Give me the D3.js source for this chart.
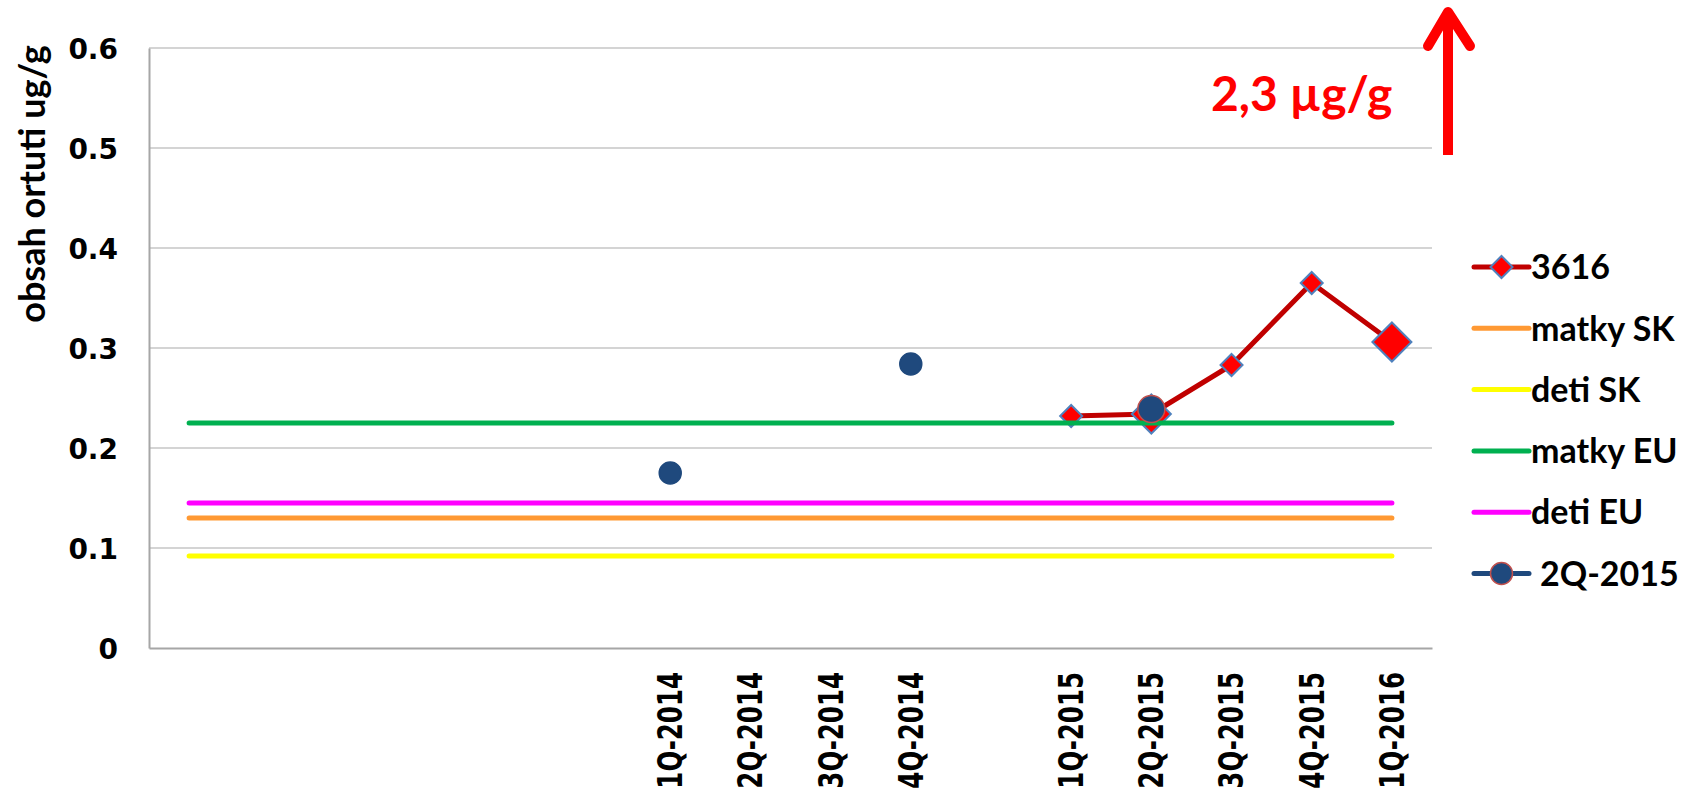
<!DOCTYPE html>
<html>
<head>
<meta charset="utf-8">
<script src="https://cdn.jsdelivr.net/npm/d3@7"></script>
<style>
  body { margin: 0; background: #fff; }
  svg { display: block; }
  .ytick { font-family: "DejaVu Sans", sans-serif; font-weight: bold; font-size: 28px; }
  .xtick { font-family: "DejaVu Sans", sans-serif; font-weight: bold; font-size: 24.5px; }
  .ytitle, .legend text { font-family: Lato, sans-serif; font-weight: bold; }
</style>
</head>
<body>
<div id="chart"></div>
<script>
// categories on the x axis (empty ones are blank slots in the original)
const categories = ["", "", "", "", "", "", "1Q-2014", "2Q-2014", "3Q-2014", "4Q-2014", "",
                    "1Q-2015", "2Q-2015", "3Q-2015", "4Q-2015", "1Q-2016"];
const yTicks = [0, 0.1, 0.2, 0.3, 0.4, 0.5, 0.6];

const s3616   = [null, null, null, null, null, null, null, null, null, null, null,
                 0.232, 0.234, 0.283, 0.365, 0.306];
const s2Q2015 = [null, null, null, null, null, null, 0.175, null, null, 0.284, null,
                 null, 0.239, null, null, null];
const matkySK = 0.130;
const detiSK  = 0.092;
const matkyEU = 0.225;
const detiEU  = 0.145;

const seriesNames = ["3616", "matky SK", "deti SK", "matky EU", "deti EU", "2Q-2015"];
const bigMarkers = ["2Q-2015", "1Q-2016"];   // drawn with enlarged markers

const W = 1696, H = 806;
const margin = {top: 48, right: 264, bottom: 158, left: 149};

const svg = d3.select("#chart").append("svg")
    .attr("width", W).attr("height", H);

const x = d3.scaleBand()
    .domain(d3.range(categories.length))
    .range([margin.left, W - margin.right]);
const y = d3.scaleLinear()
    .domain([0, 0.6])
    .range([H - margin.bottom, margin.top]);
const cx = i => x(i) + x.bandwidth() / 2;

// grid
svg.append("g")
  .selectAll("line")
  .data(yTicks.slice(1))
  .join("line")
    .attr("x1", margin.left).attr("x2", W - margin.right)
    .attr("y1", d => y(d)).attr("y2", d => y(d))
    .attr("stroke", "#c6c6c6").attr("stroke-width", 1.5);

// axes
const yAxis = svg.append("g")
    .attr("transform", "translate(" + margin.left + ",0)")
    .call(d3.axisLeft(y).tickValues(yTicks).tickSize(0).tickPadding(31)
      .tickFormat(d => d === 0 ? "0" : d3.format(".1f")(d)));
yAxis.select(".domain").attr("stroke", "#a6a6a6").attr("stroke-width", 2);
yAxis.selectAll("text").attr("class", "ytick").attr("fill", "#000").attr("dy", "0.36em");

const xAxis = svg.append("g")
    .attr("transform", "translate(0," + y(0) + ")")
    .call(d3.axisBottom(x).tickSize(0).tickFormat(i => categories[i]));
xAxis.select(".domain").attr("stroke", "#a6a6a6").attr("stroke-width", 2);
xAxis.selectAll("text")
    .attr("class", "xtick")
    .attr("fill", "#000")
    .attr("text-anchor", "end")
    .attr("transform", "translate(0,24) rotate(-90) scale(1,1.35)")
    .attr("x", 0).attr("y", 0).attr("dy", "0.36em");

svg.append("text")
    .attr("class", "ytitle")
    .attr("transform", "translate(32,184) rotate(-90)")
    .attr("text-anchor", "middle")
    .attr("dy", "0.35em")
    .attr("font-size", 36)
    .text("obsah ortuti ug/g");

const diamond = r => "M0," + (-r) + "L" + r + ",0L0," + r + "L" + (-r) + ",0Z";

// 3616
const line = d3.line()
    .defined(d => d[1] != null)
    .x(d => cx(d[0])).y(d => y(d[1]));
const pts3616 = s3616.map((v, i) => [i, v]);
svg.append("path")
    .attr("d", line(pts3616))
    .attr("fill", "none").attr("stroke", "#c00000").attr("stroke-width", 5)
    .attr("stroke-linejoin", "round");
svg.append("g")
  .selectAll("path")
  .data(pts3616.filter(d => d[1] != null))
  .join("path")
    .attr("transform", d => "translate(" + cx(d[0]) + "," + y(d[1]) + ")")
    .attr("d", d => diamond(bigMarkers.includes(categories[d[0]]) ? 19.5 : 11))
    .attr("fill", "#ff0000").attr("stroke", "#4f81bd").attr("stroke-width", 2);

// reference levels
const refs = [
  {v: matkySK, c: "#ff9933"},
  {v: detiSK,  c: "#ffff00"},
  {v: matkyEU, c: "#00b050"},
  {v: detiEU,  c: "#ff00ff"}
];
svg.append("g")
  .selectAll("line")
  .data(refs)
  .join("line")
    .attr("x1", cx(0)).attr("x2", cx(categories.length - 1))
    .attr("y1", d => y(d.v)).attr("y2", d => y(d.v))
    .attr("stroke", d => d.c).attr("stroke-width", 5).attr("stroke-linecap", "round");

// 2Q-2015
svg.append("g")
  .selectAll("circle")
  .data(s2Q2015.map((v, i) => [i, v]).filter(d => d[1] != null))
  .join("circle")
    .attr("cx", d => cx(d[0])).attr("cy", d => y(d[1]))
    .attr("r", d => bigMarkers.includes(categories[d[0]]) ? 13.5 : 11)
    .attr("fill", "#1f497d")
    .attr("stroke", d => bigMarkers.includes(categories[d[0]]) ? "#c0504d" : "#1f497d")
    .attr("stroke-width", 1.5);

// legend
const legendColors = ["#c00000", "#ff9933", "#ffff00", "#00b050", "#ff00ff", "#1f497d"];
const lg = svg.append("g").attr("class", "legend");
const item = lg.selectAll("g")
  .data(seriesNames)
  .join("g")
    .attr("transform", (d, i) => "translate(1474," + (267 + i * 61.3) + ")");
item.append("line")
    .attr("x1", 0).attr("x2", 55)
    .attr("stroke", (d, i) => legendColors[i]).attr("stroke-width", 5).attr("stroke-linecap", "round");
item.filter((d, i) => i === 0).append("path")
    .attr("transform", "translate(27.5,0)")
    .attr("d", diamond(11))
    .attr("fill", "#ff0000").attr("stroke", "#4f81bd").attr("stroke-width", 2);
item.filter((d, i) => i === 5).append("circle")
    .attr("cx", 27.5).attr("r", 11)
    .attr("fill", "#1f497d").attr("stroke", "#c0504d").attr("stroke-width", 1.5);
item.append("text")
    .attr("x", (d, i) => i === 5 ? 66 : 57)
    .attr("dy", "0.36em")
    .attr("font-size", 34)
    .text(d => d);

// annotation: value off the scale
const ax = W - margin.right + 16;
svg.append("text")
    .attr("x", 1211).attr("y", 111)
    .attr("font-family", "Lato, sans-serif").attr("font-weight", "bold")
    .attr("font-size", 48).attr("fill", "#ff0000")
    .text("2,3 µg/g");
svg.append("line")
    .attr("x1", ax).attr("x2", ax).attr("y1", 155).attr("y2", 14)
    .attr("stroke", "#ff0000").attr("stroke-width", 10);
svg.append("polyline")
    .attr("points", [[ax - 20, 46], [ax, 12], [ax + 22, 46]].map(p => p.join(",")).join(" "))
    .attr("fill", "none").attr("stroke", "#ff0000").attr("stroke-width", 10)
    .attr("stroke-linecap", "round").attr("stroke-linejoin", "round");
</script>
</body>
</html>
